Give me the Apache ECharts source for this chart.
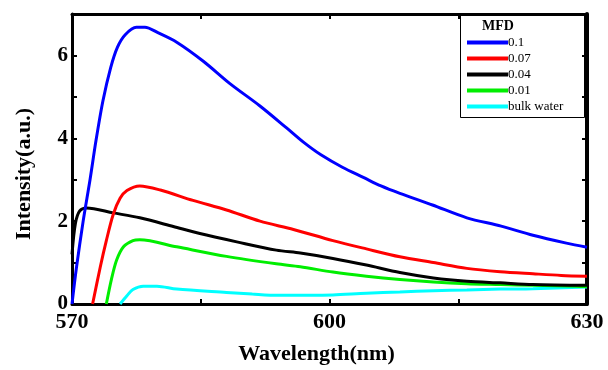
<!DOCTYPE html>
<html><head><meta charset="utf-8">
<script src="https://cdn.jsdelivr.net/npm/echarts@6/dist/echarts.min.js"></script>
<style>html,body{margin:0;padding:0;background:#fff}#c{width:608px;height:370px}</style>
</head><body><div id="c"></div>
<script>
// Series names (legend)
const seriesNames = ['0.1', '0.07', '0.04', '0.01', 'bulk water'];
const legendTitle = 'MFD';
const xTitle = 'Wavelength(nm)';
const yTitle = 'Intensity(a.u.)';
const xTickLabels = [570, 600, 630];
const yTickLabels = [0, 2, 4, 6];

// MFD 0.1
const wl01 = [570, 570.5, 571.3, 572.1, 572.8, 573.6, 574.5, 575.3, 576.2, 577.5, 578.5, 580, 582.2, 585.3, 588.4, 591.9, 595, 597, 599, 601.5, 604, 606, 608.2, 612, 616, 620, 623.7, 627.6, 630];
const int01 = [0, 0.85, 2.0, 3.0, 3.95, 4.9, 5.7, 6.2, 6.5, 6.68, 6.68, 6.55, 6.32, 5.86, 5.32, 4.78, 4.25, 3.9, 3.6, 3.3, 3.05, 2.85, 2.67, 2.39, 2.08, 1.88, 1.66, 1.47, 1.37];
// MFD 0.07
const wl007 = [572.4, 573.3, 574.0, 574.8, 575.6, 576.4, 577.9, 580.3, 584.1, 588, 591.9, 595.8, 600.4, 604.3, 608.2, 612.1, 616, 619.9, 623.7, 627, 630];
const int007 = [0, 0.9, 1.53, 2.16, 2.55, 2.74, 2.85, 2.75, 2.5, 2.27, 2.0, 1.8, 1.53, 1.33, 1.14, 1.0, 0.86, 0.78, 0.73, 0.69, 0.67];
// MFD 0.04
const wl004 = [570, 570.4, 570.9, 571.7, 574.8, 577.9, 581.8, 584.9, 589.2, 593.8, 596.6, 600.4, 604.3, 608.2, 612.1, 616, 619.9, 623.7, 630];
const int004 = [1.2, 1.95, 2.25, 2.32, 2.2, 2.08, 1.87, 1.7, 1.5, 1.3, 1.23, 1.1, 0.94, 0.76, 0.63, 0.55, 0.51, 0.47, 0.45];
// MFD 0.01
const wl001 = [574.0, 574.6, 575.2, 576.0, 577.1, 577.9, 582.2, 588, 593.8, 596.6, 600.4, 604.3, 608.2, 612.1, 616, 619.9, 623.7, 628.8, 630];
const int001 = [0, 0.6, 1.06, 1.38, 1.53, 1.55, 1.38, 1.15, 0.97, 0.9, 0.77, 0.67, 0.59, 0.53, 0.49, 0.47, 0.45, 0.43, 0.42];
// bulk water
const wlBulk = [575.6, 576.4, 577.1, 578.3, 579.9, 582.2, 588, 591, 594, 598, 600.4, 604.3, 608.2, 612.1, 616, 619.9, 623.7, 630];
const intBulk = [0, 0.2, 0.35, 0.43, 0.43, 0.36, 0.28, 0.24, 0.21, 0.21, 0.22, 0.26, 0.29, 0.32, 0.34, 0.36, 0.37, 0.41];

const colors = ['#0000ff', '#ff0000', '#000000', '#00ee00', '#00ffff'];
const xs = [wl01, wl007, wl004, wl001, wlBulk];
const ys = [int01, int007, int004, int001, intBulk];

const serif = '"Liberation Serif", "Times New Roman", serif';
const chart = echarts.init(document.getElementById('c'));
const baseX = {
  type: 'value', min: 570, max: 630, interval: 15,
  axisLine: {show: true, onZero: false, lineStyle: {color: '#000', width: 3}},
  axisTick: {show: true, inside: true, length: 5, lineStyle: {color: '#000', width: 2}},
  splitLine: {show: false}
};
const baseY = {
  type: 'value', min: 0, max: 7, interval: 1,
  axisLine: {show: true, onZero: false, lineStyle: {color: '#000', width: 3}},
  axisTick: {show: true, inside: true, length: 5, lineStyle: {color: '#000', width: 2}},
  splitLine: {show: false}
};
chart.setOption({
  animation: false,
  backgroundColor: '#fff',
  grid: {left: 72, right: 21, top: 14, bottom: 59},
  title: {text: legendTitle, left: 482, top: 19, padding: 0, textStyle: {fontFamily: serif, fontSize: 14, fontWeight: 'bold', color: '#000'}},
  graphic: [{type: 'rect', shape: {x: 460.5, y: 14.5, width: 124, height: 103}, style: {fill: 'none', stroke: '#000', lineWidth: 1}, z: 10}],
  legend: {
    orient: 'vertical', left: 467, top: 36, padding: 0,
    itemWidth: 41, itemHeight: 4, itemGap: 3, icon: 'rect',
    textStyle: {fontFamily: serif, fontSize: 13, color: '#000', lineHeight: 13, padding: [0, 0, 0, -5]},
    data: seriesNames
  },
  xAxis: [
    Object.assign({}, baseX, {
      position: 'bottom', name: xTitle, nameLocation: 'middle', nameGap: 39,
      nameTextStyle: {fontFamily: serif, fontSize: 22, fontWeight: 'bold', color: '#000', padding: [0, 26, 0, 0]},
      axisLabel: {show: true, margin: 7, fontFamily: serif, fontSize: 22, fontWeight: 'bold', color: '#000',
        formatter: v => xTickLabels.indexOf(v) >= 0 ? String(v) : ''}
    }),
    Object.assign({}, baseX, {position: 'top', axisLabel: {show: false}})
  ],
  yAxis: [
    Object.assign({}, baseY, {
      position: 'left', name: yTitle, nameLocation: 'middle', nameGap: 37,
      nameTextStyle: {fontFamily: serif, fontSize: 22, fontWeight: 'bold', color: '#000', padding: [0, 30, 0, 0]},
      axisLabel: {show: true, margin: 4, fontFamily: serif, fontSize: 21, fontWeight: 'bold', color: '#000',
        padding: [0, 0, 0, 0], verticalAlign: 'middle', lineHeight: 21,
        formatter: v => yTickLabels.indexOf(v) >= 0 ? String(v) : ''}
    }),
    Object.assign({}, baseY, {position: 'right', axisLabel: {show: false},
      axisLine: {show: true, onZero: false, lineStyle: {color: '#000', width: 4}}})
  ],
  series: seriesNames.map((n, i) => ({
    name: n, type: 'line', showSymbol: false, smooth: 0.3,
    color: colors[i],
    lineStyle: {width: 3, color: colors[i]},
    data: xs[i].map((x, j) => [x, ys[i][j]]),
    z: 5 - i
  }))
});
</script></body></html>
